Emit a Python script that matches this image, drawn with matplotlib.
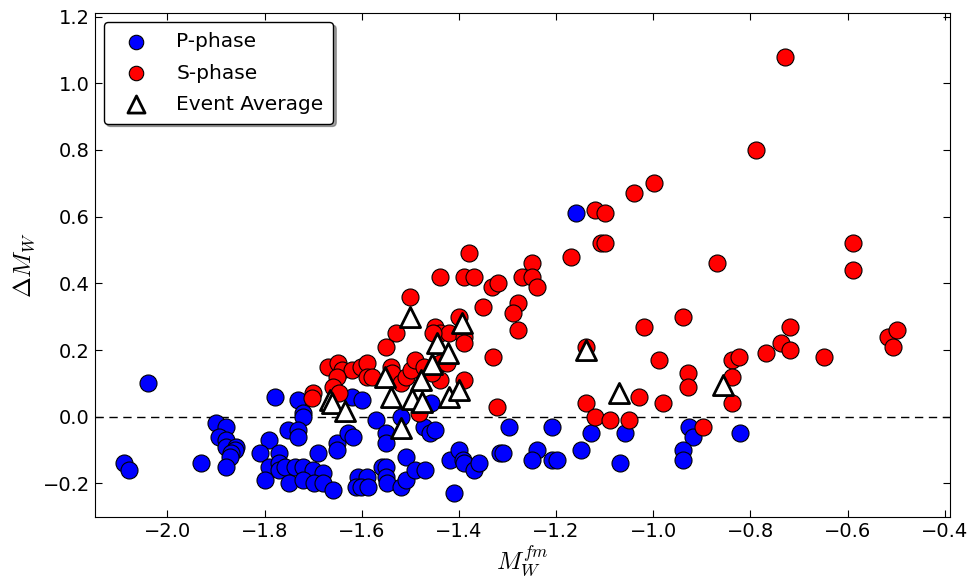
import numpy as np
import matplotlib
matplotlib.use("Agg")
import matplotlib.pyplot as plt

plt.rcParams['mathtext.fontset'] = 'cm'
plt.rcParams['font.family'] = ['DejaVu Sans']

#--- P-phase ---#
p_x = [-2.04, -2.09, -2.08, -1.93, -1.90, -1.88, -1.893, -1.88, -1.879, -1.858,
       -1.86, -1.869, -1.871, -1.88, -1.779, -1.731, -1.721, -1.721, -1.751, -1.731,
       -1.731, -1.791, -1.81, -1.77, -1.791, -1.77, -1.77, -1.759, -1.738, -1.72,
       -1.70, -1.68, -1.80, -1.75, -1.72, -1.699, -1.68, -1.66, -1.652, -1.652,
       -1.69, -1.621, -1.599, -1.628, -1.618, -1.57, -1.55, -1.55, -1.52, -1.509,
       -1.559, -1.55, -1.55, -1.549, -1.608, -1.59, -1.611, -1.601, -1.587, -1.52,
       -1.509, -1.491, -1.469, -1.471, -1.46, -1.449, -1.458, -1.419, -1.399, -1.391,
       -1.389, -1.37, -1.358, -1.41, -1.315, -1.159, -1.298, -1.209, -1.128, -1.059,
       -0.927, -0.918, -0.821, -1.309, -1.239, -1.25, -1.209, -1.199, -1.149, -1.068,
       -0.939, -0.939]
p_y = [0.10, -0.14, -0.16, -0.14, -0.02, -0.03, -0.06, -0.07, -0.09, -0.09,
       -0.10, -0.11, -0.12, -0.15, 0.06, 0.05, 0.01, 0.0, -0.04, -0.04,
       -0.06, -0.07, -0.11, -0.11, -0.15, -0.14, -0.16, -0.15, -0.15, -0.15,
       -0.16, -0.17, -0.19, -0.20, -0.19, -0.20, -0.20, -0.22, -0.08, -0.10,
       -0.11, 0.06, 0.05, -0.05, -0.06, -0.01, -0.05, -0.08, 0.0, -0.12,
       -0.15, -0.15, -0.18, -0.20, -0.18, -0.18, -0.21, -0.21, -0.21, -0.21,
       -0.19, -0.16, -0.16, -0.03, -0.05, -0.04, 0.04, -0.13, -0.10, -0.13,
       -0.14, -0.16, -0.14, -0.23, -0.11, 0.61, -0.03, -0.03, -0.05, -0.05,
       -0.03, -0.06, -0.05, -0.11, -0.10, -0.13, -0.13, -0.13, -0.10, -0.14,
       -0.10, -0.13]

#--- S-phase ---#
s_x = [-1.379, -1.439, -1.39, -1.369, -1.331, -1.319, -1.35, -1.50, -1.399, -1.449,
       -1.439, -1.42, -1.453, -1.39, -1.39, -1.53, -1.55, -1.329, -1.669, -1.649,
       -1.64, -1.621, -1.601, -1.59, -1.651, -1.59, -1.58, -1.659, -1.647, -1.70,
       -1.702, -1.539, -1.537, -1.52, -1.509, -1.499, -1.491, -1.472, -1.449, -1.439,
       -1.425, -1.439, -1.39, -1.482, -1.322, -1.456,
       -0.999, -1.039, -1.119, -1.099, -1.108, -1.099, -1.17, -1.249, -1.271, -1.249,
       -1.239, -1.279, -1.289, -1.279, -0.869, -0.939, -1.019, -1.139, -0.989, -0.928,
       -0.928, -0.839, -0.839, -0.824, -1.029, -0.979, -1.139, -0.839, -1.119, -1.089,
       -1.049, -0.898,
       -0.728, -0.788, -0.588, -0.588, -0.719, -0.738, -0.718, -0.768, -0.649, -0.517,
       -0.498, -0.507]
s_y = [0.49, 0.42, 0.42, 0.42, 0.39, 0.40, 0.33, 0.36, 0.30, 0.27,
       0.25, 0.25, 0.25, 0.24, 0.22, 0.25, 0.21, 0.18, 0.15, 0.16,
       0.14, 0.14, 0.15, 0.16, 0.12, 0.12, 0.12, 0.09, 0.07, 0.07,
       0.057, 0.15, 0.13, 0.10, 0.12, 0.14, 0.17, 0.15, 0.15, 0.16,
       0.16, 0.11, 0.11, 0.01, 0.03, 0.13,
       0.70, 0.67, 0.62, 0.61, 0.52, 0.52, 0.48, 0.46, 0.42, 0.42,
       0.39, 0.34, 0.31, 0.26, 0.46, 0.30, 0.27, 0.21, 0.17, 0.13,
       0.09, 0.17, 0.12, 0.18, 0.06, 0.04, 0.04, 0.04, 0.0, -0.01,
       -0.01, -0.03,
       1.08, 0.80, 0.52, 0.44, 0.27, 0.22, 0.20, 0.19, 0.18, 0.24,
       0.26, 0.21]

#--- Event average ---#
e_x = [-1.50, -1.393, -1.446, -1.423, -1.456, -1.553, -1.479, -1.539, -1.496, -1.477,
       -1.42, -1.399, -1.665, -1.662, -1.635, -1.519, -1.139, -1.07, -0.857]
e_y = [0.30, 0.28, 0.22, 0.19, 0.157, 0.12, 0.11, 0.06, 0.052, 0.044,
       0.06, 0.08, 0.05, 0.04, 0.017, -0.033, 0.20, 0.072, 0.094]

fig = plt.figure(figsize=(9.75, 5.78), dpi=100)
ax = fig.add_axes([0.097, 0.106, 0.877, 0.871])

ax.axhline(0.0, color='k', linestyle=(0, (6, 4)), linewidth=1, zorder=1)
ax.scatter(p_x, p_y, s=150, c='b', edgecolors='k', linewidths=0.8, label='P-phase', zorder=2)
ax.scatter(s_x, s_y, s=150, c='r', edgecolors='k', linewidths=0.8, label='S-phase', zorder=3)
ax.scatter(e_x, e_y, s=210, marker='^', facecolors='w', edgecolors='k', linewidths=2,
           label='Event Average', zorder=4)

ax.set_xlim(-2.15, -0.39)
ax.set_ylim(-0.3, 1.21)
ax.set_xticks(np.arange(-2.0, -0.39, 0.2))
ax.set_yticks(np.arange(-0.2, 1.21, 0.2))
ax.tick_params(direction='in', top=True, right=True, labelsize=14, length=5)
ax.set_xlabel(r'$M_W^{fm}$', fontsize=18, labelpad=2)
ax.set_ylabel(r'$\Delta M_W$', fontsize=18)

leg = ax.legend(loc='upper left', scatterpoints=1, prop={'size': 14.5}, shadow=True,
                fancybox=True, borderaxespad=0.45, markerscale=0.85,
                handlelength=2.2, handletextpad=0.9, labelspacing=0.6,
                borderpad=0.5)
leg.get_frame().set_edgecolor('k')
leg.get_frame().set_alpha(1)

fig.savefig('out.png', dpi=100)
